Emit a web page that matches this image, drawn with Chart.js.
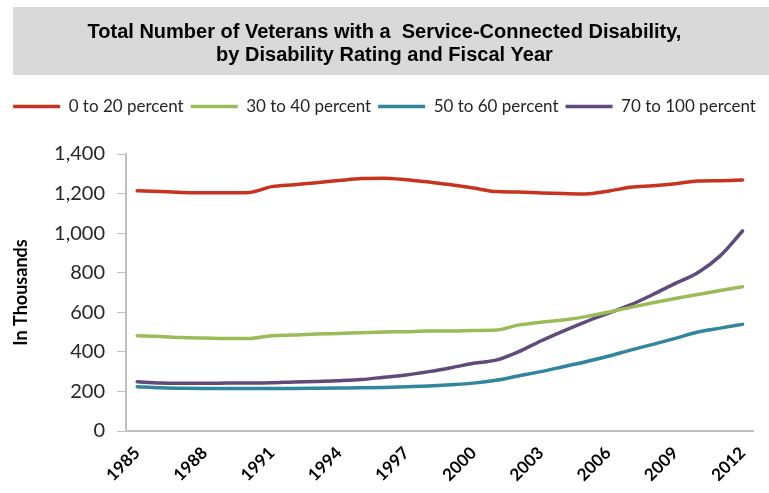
<!DOCTYPE html>
<html>
<head>
<meta charset="utf-8">
<script src="https://cdn.jsdelivr.net/npm/chart.js@4.4.1/dist/chart.umd.min.js"></script>
<style>
  html, body { margin: 0; padding: 0; background: #fff; }
  #wrap { width: 769px; height: 493px; position: relative; }
</style>
</head>
<body>
<div id="wrap"><canvas id="chart"></canvas></div>
<script>
const years = [
  "1985", "1986", "1987", "1988", "1989", "1990", "1991", "1992", "1993", "1994",
  "1995", "1996", "1997", "1998", "1999", "2000", "2001", "2002", "2003", "2004",
  "2005", "2006", "2007", "2008", "2009", "2010", "2011", "2012"
];

// values in thousands
const pct0to20 = [
  1214, 1210, 1206, 1204, 1204, 1206, 1235, 1245, 1255, 1266,
  1276, 1278, 1270, 1258, 1245, 1228, 1210, 1208, 1203, 1200,
  1198, 1212, 1232, 1240, 1250, 1263, 1265, 1268
];
const pct30to40 = [
  482, 478, 472, 470, 468, 468, 482, 485, 490, 493,
  497, 500, 502, 505, 505, 508, 510, 535, 550, 561,
  578, 600, 625, 648, 670, 690, 710, 729
];
const pct50to60 = [
  224, 218, 216, 215, 215, 215, 215, 215, 216, 217,
  218, 220, 224, 228, 234, 242, 256, 278, 300, 325,
  350, 378, 409, 438, 468, 500, 520, 539
];
const pct70to100 = [
  249, 242, 241, 241, 242, 243, 244, 248, 250, 254,
  260, 272, 283, 300, 320, 342, 358, 400, 455, 505,
  552, 595, 637, 690, 746, 800, 885, 1011
];

const yTicks = [0, 200, 400, 600, 800, 1000, 1200, 1400];

const seriesNames = ["0 to 20 percent", "30 to 40 percent", "50 to 60 percent", "70 to 100 percent"];
const seriesColors = ["#C8331F", "#9BBB59", "#31859C", "#604A7B"];

// grey band behind the title
const titleBand = {
  id: "titleBand",
  beforeDraw(chart) {
    const t = chart.titleBlock;
    if (!t) return;
    const ctx = chart.ctx;
    ctx.save();
    ctx.fillStyle = "#D9D9D9";
    ctx.fillRect(13, t.top, chart.width - 13, t.height - 16);
    ctx.restore();
  }
};

const axisGrey = "#BFBFBF";
const textColor = "#262626";

const ctx = document.getElementById("chart").getContext("2d");
new Chart(ctx, {
  type: "line",
  data: {
    labels: years,
    datasets: [pct0to20, pct30to40, pct50to60, pct70to100].map((vals, i) => ({
      label: seriesNames[i],
      data: vals,
      borderColor: seriesColors[i],
      backgroundColor: seriesColors[i],
      borderWidth: 3.5,
      pointRadius: 0,
      cubicInterpolationMode: "monotone",
      borderCapStyle: "round",
      fill: false
    }))
  },
  options: {
    responsive: true,
    maintainAspectRatio: false,
    animation: false,
    layout: { padding: { top: 7, left: 0, right: 0, bottom: 0 } },
    plugins: {
      title: {
        display: true,
        text: ["Total Number of Veterans with a  Service-Connected Disability,", "by Disability Rating and Fiscal Year"],
        color: "#000",
        font: { family: "'Liberation Sans', Arial, sans-serif", size: 20, weight: "bold", lineHeight: 1.15 },
        padding: { top: 13.5, bottom: 24.5 }
      },
      subtitle: {
        // empty spacer between legend and plot
        display: true,
        text: "",
        weight: 500,
        font: { size: 10, lineHeight: 1 },
        padding: { top: 0, bottom: 19 }
      },
      legend: {
        position: "top",
        labels: {
          usePointStyle: true,
          pointStyle: "line",
          pointStyleWidth: 47,
          padding: 7,
          color: textColor,
          font: { family: "Lato, 'Open Sans', sans-serif", size: 17 }
        }
      },
      tooltip: { enabled: false }
    },
    scales: {
      x: {
        type: "category",
        offset: true,
        grid: { display: false, drawTicks: false },
        border: { display: true, color: axisGrey, width: 2 },
        ticks: {
          autoSkip: false,
          minRotation: 45,
          maxRotation: 45,
          padding: 12,
          color: "#000",
          font: { family: "Lato, 'Open Sans', sans-serif", size: 17, weight: "bold" },
          callback: function (val, i) {
            return i % 3 === 0 ? this.getLabelForValue(val) : null;
          }
        },
        afterFit: (scale) => { scale.height = 62; }
      },
      y: {
        min: 0,
        max: 1400,
        afterBuildTicks: (scale) => { scale.ticks = yTicks.map(v => ({ value: v })); },
        grid: { drawOnChartArea: false, drawTicks: true, tickLength: 9, color: axisGrey },
        border: { display: true, color: axisGrey, width: 2 },
        ticks: {
          padding: 12,
          color: textColor,
          font: { family: "Lato, 'Open Sans', sans-serif", size: 20 },
          callback: (v) => v.toLocaleString("en-US")
        },
        title: {
          display: true,
          text: "In Thousands",
          color: "#000",
          font: { family: "Lato, 'Open Sans', sans-serif", size: 18, weight: "bold" },
          padding: { top: 10, bottom: 0 }
        },
        afterFit: (scale) => { scale.width = 126; }
      }
    }
  },
  plugins: [titleBand]
});
</script>
</body>
</html>
